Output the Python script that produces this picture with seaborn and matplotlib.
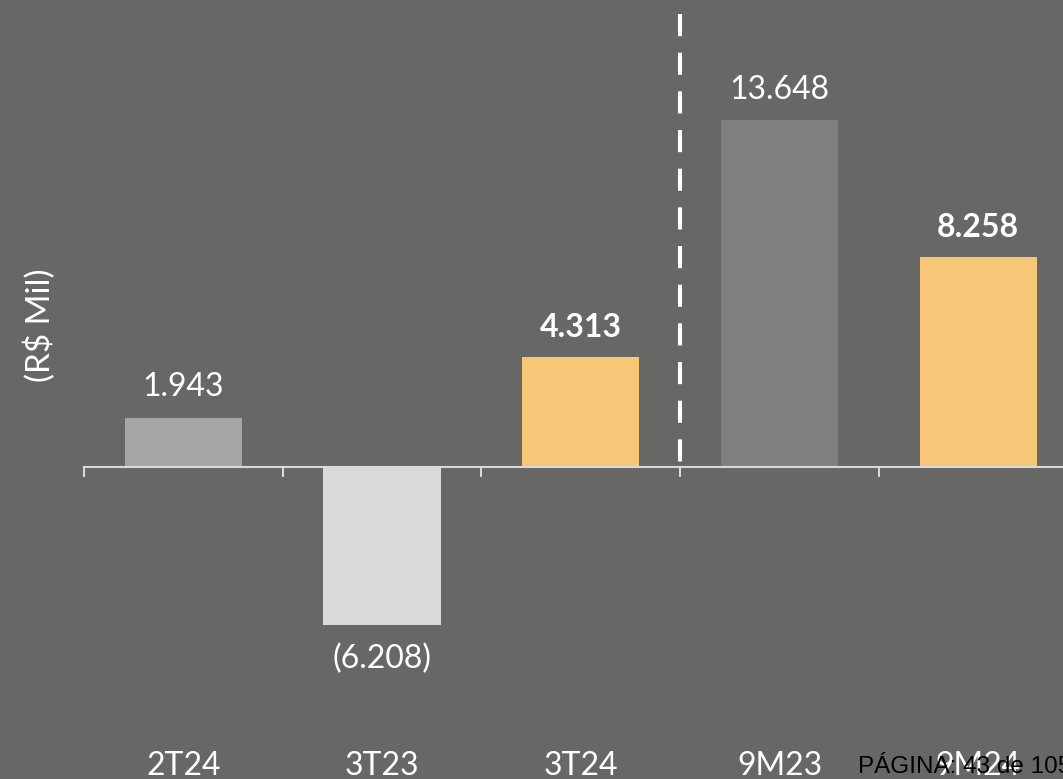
import matplotlib
matplotlib.use("Agg")
import matplotlib.pyplot as plt
import matplotlib.transforms as mtransforms
import seaborn as sns
import pandas as pd

categories = ["2T24", "3T23", "3T24", "9M23", "9M24"]
values = [1943, -6208, 4313, 13648, 8258]
bar_colors = ["#a6a6a6", "#d9d9d9", "#f8c677", "#7f7f7f", "#f8c677"]
bold_labels = [False, False, True, False, True]
y_label = "(R$ Mil)"
page_text = "PÁGINA: 43 de 105"

BG = "#676866"
FONT = "Lato"

sns.set_theme(style="white")
plt.rcParams["font.family"] = [FONT, "DejaVu Sans"]

W, H = 1063, 779
fig = plt.figure(figsize=(W / 100, H / 100), dpi=100, facecolor=BG)
ax = fig.add_axes([0, 0, 1, 1])
ax.set_facecolor(BG)

df = pd.DataFrame({"cat": categories, "val": values})
sns.barplot(data=df, x="cat", y="val", hue="cat", palette=bar_colors,
            legend=False, width=0.59, ax=ax, saturation=1, linewidth=0)

for s in ["top", "right", "left"]:
    ax.spines[s].set_visible(False)
ax.spines["bottom"].set_position(("data", 0))
ax.spines["bottom"].set_color("#d9d9d9")
ax.spines["bottom"].set_linewidth(1.5)
ax.spines["bottom"].set_bounds(-0.5, len(categories) - 0.5)
ax.set_xticks([i - 0.5 for i in range(len(categories) + 1)])
ax.tick_params(axis="x", direction="out", length=7.5, width=1.5,
               color="#d9d9d9", labelbottom=False, bottom=True)
ax.set_yticks([])
ax.set_xlabel("")
ax.set_ylabel("")

# scales: 198.7 px per category, 0.0254 px per unit
px_cat = 198.7
px_unit = 0.0254
x_left_px = 84
ax.set_xlim(-0.5 - x_left_px / px_cat, -0.5 + (W - x_left_px) / px_cat)
zero_px = 467
ax.set_ylim(-(H - zero_px) / px_unit, zero_px / px_unit)
ax.set_autoscale_on(False)

# data labels
def fmt(v):
    s = f"{abs(v):,}".replace(",", ".")
    return f"({s})" if v < 0 else s

bars = [b for c in ax.containers for b in c]
for bar, v, b in zip(bars, values, bold_labels):
    x = bar.get_x() + bar.get_width() / 2
    off = 11 if v >= 0 else -14
    ax.annotate(fmt(v), (x, v), xytext=(0, off), textcoords="offset points",
                ha="center", va="bottom" if v >= 0 else "top",
                color="white", fontsize=23,
                fontweight="bold" if b else "normal")

# category labels below
trans = mtransforms.blended_transform_factory(ax.transData, ax.transAxes)
for i, c in enumerate(categories):
    ax.text(i, 1 - 775 / H, c, transform=trans, ha="center", va="baseline",
            color="white", fontsize=23, fontweight="normal")

# dashed separator
ax.plot([2.5, 2.5], [1 - 14 / H, 1 - 478 / H], transform=trans,
        color="white", lw=2.9, dashes=(5.5, 4.1), solid_capstyle="butt",
        dash_capstyle="butt", zorder=5)

# y label
fig.text(40 / W, 1 - 325 / H, y_label, rotation=90, ha="center", va="center",
         color="white", fontsize=24, fontweight="normal")

# page footer
fig.text(858 / W, 1 - 773 / H, page_text, ha="left", va="baseline",
         color="black", fontsize=17.5, family=["Liberation Sans", "DejaVu Sans"])

fig.savefig("out.png", dpi=100, facecolor=BG)
